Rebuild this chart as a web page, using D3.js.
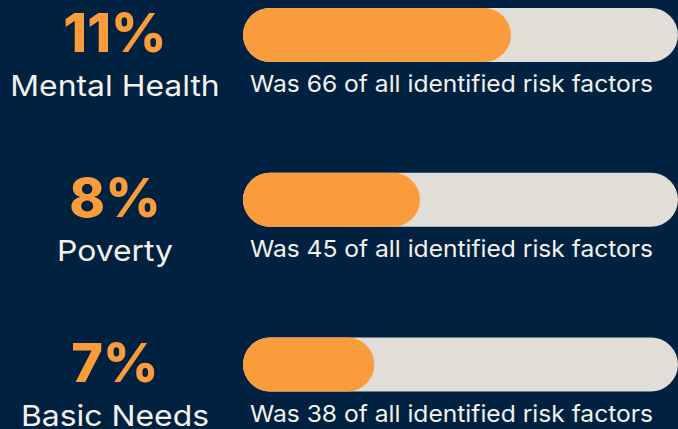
<!DOCTYPE html>
<html>
<head>
<meta charset="utf-8">
<script src="https://cdn.jsdelivr.net/npm/d3@7"></script>
<style>
  html, body { margin: 0; padding: 0; background: #012140; }
  svg { display: block; }
</style>
</head>
<body>
<svg id="chart" width="678" height="429"></svg>
<script>
const categories = ["Mental Health", "Poverty", "Basic Needs"];
const percents = [11, 8, 7];
const counts = [66, 45, 38];
const fillShare = [61.6, 40.7, 30.2];

const W = 678, H = 429;
const svg = d3.select("#chart");
svg.append("rect").attr("width", W).attr("height", H).attr("fill", "#012140");

const x = d3.scaleLinear().domain([0, 100]).range([243, 678]);
const y = d3.scalePoint().domain(categories).range([8, 337.5]);
const barH = 54;
const font = "Inter, 'Open Sans', sans-serif";

const rows = svg.selectAll("g.row")
  .data(categories.map((c, i) => ({ c, p: percents[i], n: counts[i], f: fillShare[i] })))
  .join("g").attr("class", "row");

rows.append("rect")
  .attr("x", x(0)).attr("y", d => y(d.c))
  .attr("width", x(100) - x(0)).attr("height", barH)
  .attr("rx", barH / 2).attr("fill", "#E1DED8");

rows.append("rect")
  .attr("x", x(0)).attr("y", d => y(d.c))
  .attr("width", d => x(d.f) - x(0)).attr("height", barH)
  .attr("rx", barH / 2).attr("fill", "#FA9C3C");

rows.append("text")
  .attr("x", 115).attr("y", d => y(d.c) + 44)
  .attr("text-anchor", "middle")
  .attr("font-family", font).attr("font-weight", 800)
  .attr("font-size", 54).attr("fill", "#FA9C3C")
  .text(d => d.p + "%");

// fit labels to the wider geometric face of the original
rows.append("text")
  .attr("x", 115).attr("y", d => y(d.c) + 88)
  .attr("text-anchor", "middle")
  .attr("font-family", font).attr("font-weight", 400)
  .attr("font-size", 29).attr("fill", "#F4F2EC")
  .text(d => d.c)
  .each(function () {
    const w = this.getComputedTextLength();
    this.setAttribute("textLength", w * 1.1);
    this.setAttribute("lengthAdjust", "spacingAndGlyphs");
  });

rows.append("text")
  .attr("x", 250).attr("y", d => y(d.c) + 84)
  .attr("font-family", font).attr("font-weight", 400)
  .attr("font-size", 23).attr("fill", "#F4F2EC")
  .text(d => `Was ${d.n} of all identified risk factors`)
  .attr("textLength", 403)
  .attr("lengthAdjust", "spacingAndGlyphs");
</script>
</body>
</html>
